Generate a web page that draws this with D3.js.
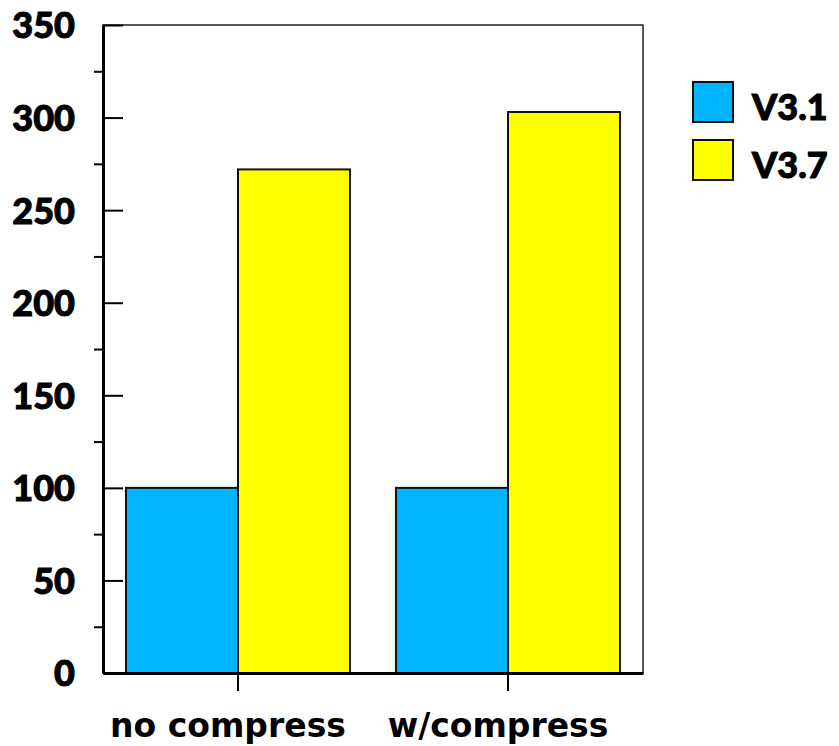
<!DOCTYPE html>
<html>
<head>
<meta charset="utf-8">
<script src="https://cdn.jsdelivr.net/npm/d3@7"></script>
<style>
  body { margin: 0; background: #fff; }
  svg { display: block; }
</style>
</head>
<body>
<div id="chart"></div>
<script>
// data
var categories = ["no compress", "w/compress"];
var seriesNames = ["V3.1", "V3.7"];
var seriesColors = ["#00b4ff", "#ffff00"];
var v31Values = [100, 100];
var v37Values = [272, 303];
var majorTicks = [0, 50, 100, 150, 200, 250, 300, 350];
var minorTicks = [25, 75, 125, 175, 225, 275, 325];

var width = 839, height = 746;
var plotLeft = 103, plotRight = 643, plotTop = 25, plotBottom = 673;

var svg = d3.select("#chart").append("svg")
  .attr("width", width)
  .attr("height", height);

var y = d3.scaleLinear().domain([0, 350]).range([plotBottom, plotTop]);
var x0 = d3.scaleBand().domain(categories).range([plotLeft, plotRight]).padding(0);
var x1 = d3.scaleBand().domain(seriesNames).range([0, x0.bandwidth()])
  .paddingInner(0).paddingOuter(0.205);

var rows = categories.map(function(c, i) {
  return { cat: c, values: [v31Values[i], v37Values[i]] };
});

// frame (top and right sides)
svg.append("rect")
  .attr("x", plotLeft).attr("y", plotTop)
  .attr("width", plotRight - plotLeft).attr("height", plotBottom - plotTop)
  .attr("fill", "none")
  .attr("stroke", "#222")
  .attr("stroke-width", 1.5);

// bars
var groups = svg.selectAll(".grp").data(rows).enter().append("g")
  .attr("class", "grp")
  .attr("transform", function(d) { return "translate(" + x0(d.cat) + ",0)"; });

groups.selectAll("rect").data(function(d) {
    return d.values.map(function(v, i) { return { s: seriesNames[i], v: v, i: i }; });
  }).enter().append("rect")
  .attr("x", function(d) { return x1(d.s); })
  .attr("y", function(d) { return y(d.v); })
  .attr("width", x1.bandwidth())
  .attr("height", function(d) { return plotBottom - y(d.v); })
  .attr("fill", function(d) { return seriesColors[d.i]; })
  .attr("stroke", "#111")
  .attr("stroke-width", 2);

// minor ticks point outward
var minorAxis = svg.append("g")
  .attr("transform", "translate(" + plotLeft + ",0)")
  .call(d3.axisLeft(y).tickValues(minorTicks).tickSize(9).tickFormat(""));
minorAxis.select(".domain").remove();
minorAxis.selectAll("line").attr("stroke-width", 2);

// major ticks point inward
var yAxis = svg.append("g")
  .attr("transform", "translate(" + plotLeft + ",0)")
  .call(d3.axisLeft(y).tickValues(majorTicks).tickSizeInner(-20).tickSizeOuter(0).tickPadding(28));
yAxis.select(".domain").attr("stroke-width", 3);
yAxis.selectAll("line").attr("stroke-width", 2);
yAxis.selectAll("text")
  .attr("font-family", "Lato, sans-serif")
  .attr("font-weight", 900)
  .attr("font-size", 36)
  .attr("fill", "#000")
  .attr("stroke", "#000")
  .attr("stroke-width", 1)
  .attr("dy", "0.36em");

var xAxis = svg.append("g")
  .attr("transform", "translate(0," + plotBottom + ")")
  .call(d3.axisBottom(x0).tickSizeInner(18).tickSizeOuter(0).tickPadding(26));
xAxis.select(".domain").attr("stroke-width", 3);
xAxis.selectAll("line").attr("stroke-width", 2);
xAxis.selectAll("text")
  .attr("font-family", "'DejaVu Sans', sans-serif")
  .attr("font-weight", 700)
  .attr("font-size", 33)
  .attr("fill", "#000")
  .attr("dx", -10)
  .attr("dy", "0.6em");

// legend
var legend = svg.selectAll(".leg").data(seriesNames).enter().append("g")
  .attr("class", "leg")
  .attr("transform", function(d, i) { return "translate(693," + (82 + i * 58) + ")"; });

legend.append("rect")
  .attr("width", 40).attr("height", 40)
  .attr("fill", function(d, i) { return seriesColors[i]; })
  .attr("stroke", "#111")
  .attr("stroke-width", 2);

legend.append("text")
  .attr("x", 59).attr("y", 38)
  .attr("font-family", "Lato, sans-serif")
  .attr("font-weight", 900)
  .attr("font-size", 36)
  .attr("stroke", "#000")
  .attr("stroke-width", 1)
  .text(function(d) { return d; });
</script>
</body>
</html>
